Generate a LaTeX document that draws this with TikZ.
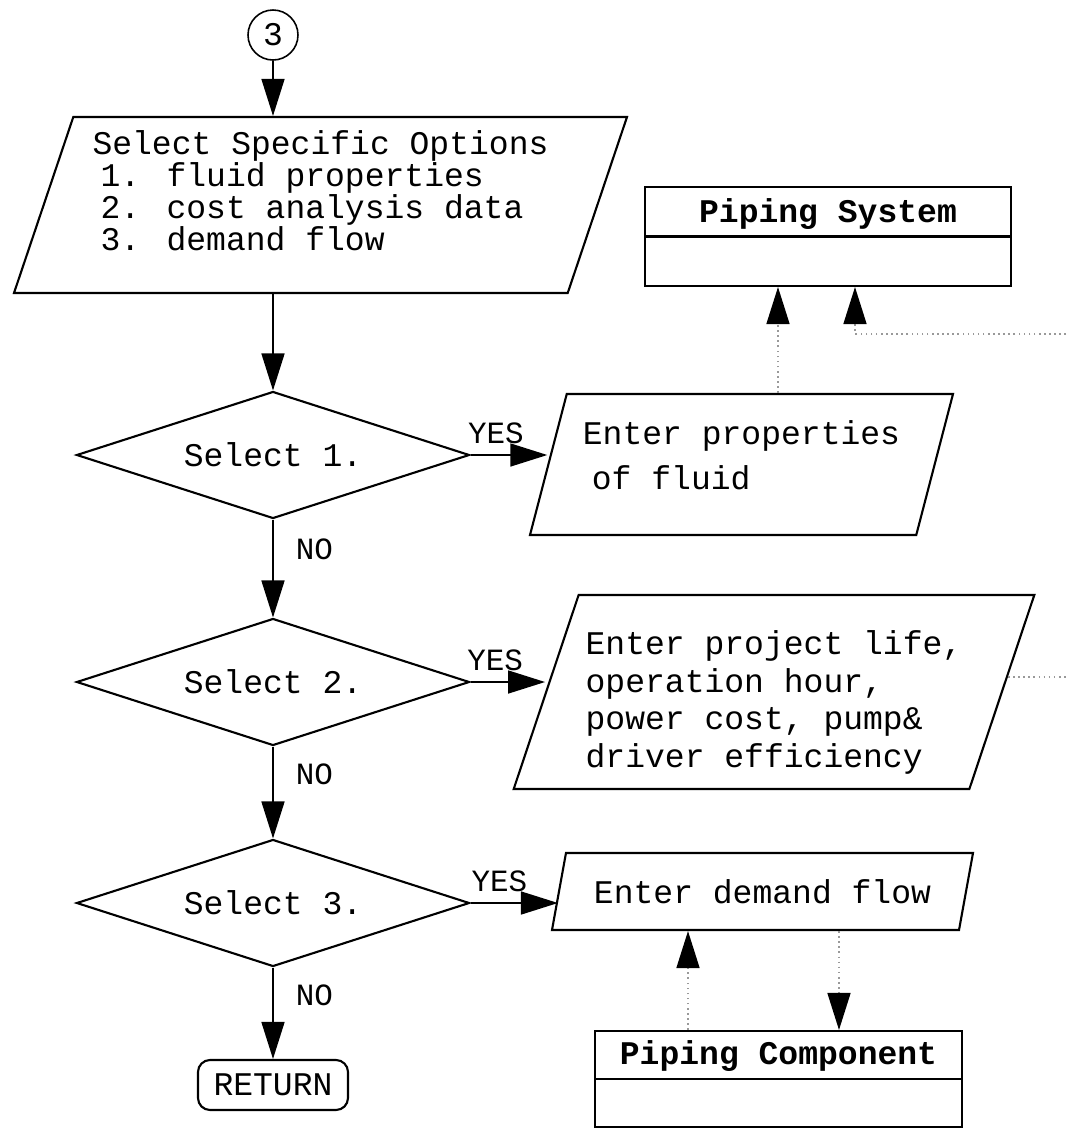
\documentclass[tikz,border=0pt]{standalone}
\usepackage{fontspec}
\setmainfont{Liberation Mono}
\usetikzlibrary{shapes.geometric,arrows.meta,positioning}

\begin{document}
\begin{tikzpicture}[->,>={Triangle[length=3.7mm,width=2.3mm]},line width=0.45pt,font=\fontsize{9.4}{10.8}\selectfont,
  io node/.style={trapezium,trapezium left angle=70,trapezium right angle=110,trapezium stretches body,draw,line width=0.6pt,align=left,inner sep=2pt},
  test node/.style={diamond,draw,line width=0.6pt,aspect=3.1,inner sep=0pt,minimum width=3.93cm,minimum height=1.27cm},
  class node/.style={rectangle,draw,line width=0.6pt,minimum width=3.66cm,minimum height=0.99cm,inner sep=0.05cm,text height=0.25cm,text depth=0.54cm,font=\fontsize{9.4}{10.8}\selectfont\bfseries,
    path picture={\draw[-,line width=0.6pt] (path picture bounding box.west) -- (path picture bounding box.east);}},
  link/.style={densely dotted,draw=black!40,-{Triangle[length=3.7mm,width=2.3mm,color=black]}},
  yes/.style={above=0.1cm,inner sep=0pt,font=\fontsize{8.8}{10}\selectfont},
  no/.style={right=0.22cm,inner sep=0pt,font=\fontsize{8.8}{10}\selectfont}]
  \useasboundingbox (0,0) rectangle (10.67,-11.28);

  \node[circle,draw,minimum size=0.5cm,inner sep=0pt] (c3) at (2.73,-0.35) {3};
  \node[io node,minimum width=6.13cm,minimum height=1.76cm,font=\fontsize{9.4}{9.1}\selectfont] (opts) [below of=c3,node distance=1.70cm,xshift=0.475cm]
    {Select Specific Options\\\hspace{0.08cm}1. fluid properties\\\hspace{0.08cm}2. cost analysis data\\\hspace{0.08cm}3. demand flow\\[-0.03cm]\mbox{}};
  \node[test node] (s1) [below of=opts,node distance=2.5cm,xshift=-0.475cm] {Select 1.};
  \node[test node] (s2) [below of=s1,node distance=2.27cm] {Select 2.};
  \node[test node] (s3) [below of=s2,node distance=2.21cm] {Select 3.};
  \node[draw,line width=0.6pt,rounded corners=1.2mm,minimum width=1.5cm,minimum height=0.5cm,inner sep=1pt] (ret) [below of=s3,node distance=1.82cm] {RETURN};

  \node[io node,minimum width=4.23cm,minimum height=1.41cm,font=\fontsize{9.4}{12.8}\selectfont] (fluid) [right of=s1,node distance=4.685cm,yshift=-0.095cm]
    {Enter properties\\\hspace{0.09cm}of fluid\\[-0.27cm]\mbox{}};
  \node[io node,minimum width=5.18cm,minimum height=1.94cm,font=\fontsize{9.4}{10.67}\selectfont] (cost) [right of=s2,node distance=5.01cm,yshift=-0.10cm]
    {\rule{0pt}{0.45cm}Enter project life,\\operation hour,\\power cost, pump\&\\driver efficiency};
  \node[io node,minimum width=4.21cm,minimum height=0.77cm] (flow) [right of=s3,node distance=4.895cm,yshift=0.115cm] {Enter demand flow};

  \node[class node] (sys) [above of=fluid,node distance=2.28cm,xshift=0.865cm] {Piping System};
  \node[class node,minimum width=3.67cm,minimum height=0.96cm] (comp) [below of=flow,node distance=1.875cm,xshift=0.16cm] {Piping Component};

  \path
    (c3) edge (c3 |- opts.north)
    (s1 |- opts.south) edge (s1)
    (s1) edge node[no,pos=0.3] {NO} (s2)
    (s2) edge node[no,pos=0.3] {NO} (s3)
    (s3) edge node[no,pos=0.3] {NO} (ret)
    (s1.east) edge node[yes,pos=0.33] {YES} (s1.east -| fluid.west)
    (s2.east) edge node[yes,pos=0.33] {YES} (s2.east -| cost.west)
    (s3.east) edge node[yes,pos=0.33] {YES} (s3.east -| flow.west);

  % data links to the classes
  \coordinate (sysin1) at ([xshift=-0.5cm]sys.south);
  \coordinate (sysin2) at ([xshift=0.27cm]sys.south);
  \coordinate (compup) at ([xshift=-0.905cm]comp.north);
  \coordinate (compdn) at ([xshift=0.605cm]comp.north);
  \draw[link] (sysin1 |- fluid.north) -- (sysin1);
  \begin{scope}
    \clip (0,0) rectangle (10.67,-11.28);
    \draw[link] ([shift={(0.05cm,0.15cm)}]cost.east) -- ++(1.2,0) |- ([yshift=-0.47cm]sysin2) -- (sysin2);
  \end{scope}
  \draw[link] (compup) -- (compup |- flow.south);
  \draw[link] (compdn |- flow.south) -- (compdn);
\end{tikzpicture}
\end{document}
